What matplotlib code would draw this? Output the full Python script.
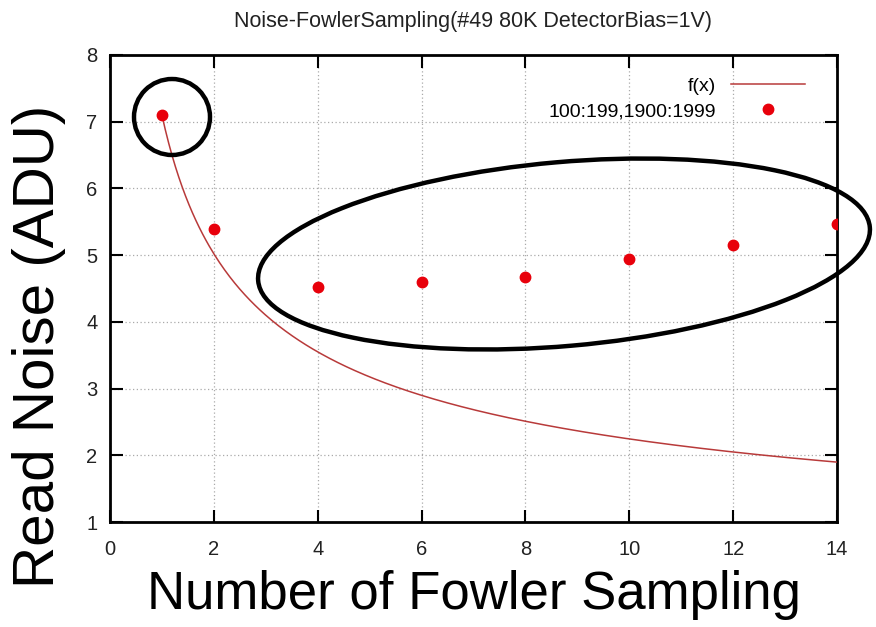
import numpy as np
import matplotlib
matplotlib.use("Agg")
import matplotlib.pyplot as plt
from matplotlib.patches import Ellipse
from matplotlib.transforms import IdentityTransform

# ---- data ----
title = "Noise-FowlerSampling(#49 80K DetectorBias=1V)"
xlabel = "Number of Fowler Sampling"
ylabel = "Read Noise (ADU)"
samples = [1, 2, 4, 6, 8, 10, 12, 14]
noise = [7.1, 5.39, 4.52, 4.60, 4.67, 4.94, 5.15, 5.46]
fit_a = 7.1  # f(x) = a / sqrt(x)
xticks = [0, 2, 4, 6, 8, 10, 12, 14]
yticks = [1, 2, 3, 4, 5, 6, 7, 8]

small_font = "Liberation Sans"
big_font = "Liberation Sans"

W, H = 876, 627
fig = plt.figure(figsize=(W / 100, H / 100), dpi=100)
ax = fig.add_axes([110 / W, 1 - 522 / H, (837 - 110) / W, (522 - 55) / H])

xf = np.linspace(1, 14, 400)
ax.plot(xf, fit_a / np.sqrt(xf), color="#b83a3a", lw=1.1, label="f(x)", zorder=3)
ax.plot(samples, noise, "o", color="#e8000b", ms=7.5, mec="#e8000b", lw=0,
        label="100:199,1900:1999", zorder=4)

ax.set_xlim(0, 14)
ax.set_ylim(1, 8)
ax.set_xticks(xticks)
ax.set_yticks(yticks)
ax.grid(True, color="#aaaaaa", linestyle=(0, (1, 2)), lw=0.9)
ax.tick_params(direction="in", length=9, width=1.5, top=True, right=True,
               labelsize=14.5)
ax.tick_params(axis="x", pad=13)
ax.tick_params(axis="y", pad=9)
for lab in ax.get_xticklabels() + ax.get_yticklabels():
    lab.set_fontfamily(small_font)
    lab.set_color("#222222")
for s in ax.spines.values():
    s.set_linewidth(2)

ax.set_title(title, fontsize=15.5, fontfamily=small_font, pad=20, color="#222222")
ax.set_xlabel(xlabel, fontsize=38, fontfamily=big_font, labelpad=8)
ax.set_ylabel(ylabel, fontsize=42, fontfamily=big_font)
ax.yaxis.set_label_coords(-0.061, 0.375)

leg = ax.legend(loc="upper right", frameon=False, markerfirst=False,
                handlelength=3.8, prop={"family": small_font, "size": 14},
                bbox_to_anchor=(0.98, 0.99), labelspacing=0.4, handletextpad=0.8)

# annotation ellipses (display pixel coordinates)
def add_ellipse(cx, cy, w, h, ang):
    e = Ellipse((cx, H - cy), w, h, angle=ang, transform=IdentityTransform(),
                fill=False, edgecolor="black", lw=3.2, zorder=10, clip_on=False)
    fig.add_artist(e)

add_ellipse(172, 117, 76, 76, 0)
add_ellipse(564, 254, 614, 184, 5)

fig.savefig("out.png", dpi=100)
